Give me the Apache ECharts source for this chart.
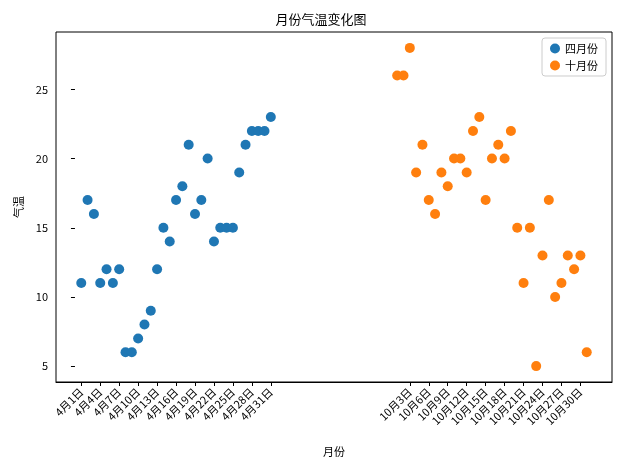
<!DOCTYPE html>
<html lang="zh">
<head>
<meta charset="UTF-8">
<title>月份气温变化图</title>
<script src="https://cdn.jsdelivr.net/npm/echarts@6/dist/echarts.min.js"></script>
<style>
  html, body { margin: 0; padding: 0; background: #fff; }
  #chart { width: 642px; height: 472px; }
</style>
</head>
<body>
<div id="chart"></div>
<script>
  var aprilTemps = [11,17,16,11,12,11,12,6,6,7,8,9,12,15,14,17,18,21,16,17,20,14,15,15,15,19,21,22,22,22,23];
  var octTemps = [26,26,28,19,21,17,16,19,18,20,20,19,22,23,17,20,21,20,22,15,11,15,5,13,17,10,11,13,12,13,6];
  var yTicks = [5, 10, 15, 20, 25];

  // x positions like matplotlib: april at 1..31, october at 51..81
  var allX = [], allLabels = {};
  aprilTemps.forEach(function (v, i) { allX.push(i + 1); allLabels[i + 1] = '4月' + (i + 1) + '日'; });
  octTemps.forEach(function (v, i) { allX.push(i + 51); allLabels[i + 51] = '10月' + (i + 1) + '日'; });
  var xTicks = allX.filter(function (x, i) { return i % 3 === 0; });

  var aprilData = aprilTemps.map(function (v, i) { return [i + 1, v]; });
  var octData = octTemps.map(function (v, i) { return [i + 51, v]; });

  var font = 'Noto Sans CJK SC';
  var chart = echarts.init(document.getElementById('chart'));
  chart.setOption({
    animation: false,
    textStyle: { fontFamily: font },
    title: {
      text: '月份气温变化图', left: 'center', top: 8,
      textStyle: { fontSize: 13, fontWeight: 'normal', color: '#000', fontFamily: font }
    },
    legend: {
      top: 38, right: 36, orient: 'vertical', itemGap: 6, itemWidth: 10, itemHeight: 10,
      borderColor: '#ccc', borderWidth: 1, borderRadius: 3, padding: [5, 8],
      textStyle: { fontSize: 11, color: '#000' },
      data: [{ name: '四月份', icon: 'circle' }, { name: '十月份', icon: 'circle' }]
    },
    grid: { left: 56, right: 30, top: 32, bottom: 90, show: true, borderColor: '#000', borderWidth: 1 },
    xAxis: {
      type: 'value', min: -3, max: 85,
      name: '月份', nameLocation: 'middle', nameGap: 64,
      nameTextStyle: { fontSize: 11, color: '#000' },
      axisLine: { onZero: false, lineStyle: { color: '#000' } },
      splitLine: { show: false },
      axisTick: { show: true, customValues: xTicks, length: 4, lineStyle: { color: '#000' } },
      axisLabel: {
        customValues: xTicks, rotate: 45, fontSize: 11, color: '#000',
        formatter: function (v) { return allLabels[v] || ''; }
      }
    },
    yAxis: {
      type: 'value', min: 3.85, max: 29.15,
      name: '气温', nameLocation: 'middle', nameGap: 32,
      nameTextStyle: { fontSize: 11, color: '#000' },
      axisLine: { show: false },
      splitLine: { show: false },
      axisTick: { show: true, customValues: yTicks, length: 4, lineStyle: { color: '#000' } },
      axisLabel: { customValues: yTicks, fontSize: 11, color: '#000' }
    },
    series: [
      { name: '四月份', type: 'scatter', data: aprilData, symbolSize: 10, itemStyle: { color: '#1f77b4', opacity: 1 } },
      { name: '十月份', type: 'scatter', data: octData, symbolSize: 10, itemStyle: { color: '#ff7f0e', opacity: 1 } }
    ]
  });
</script>
</body>
</html>
